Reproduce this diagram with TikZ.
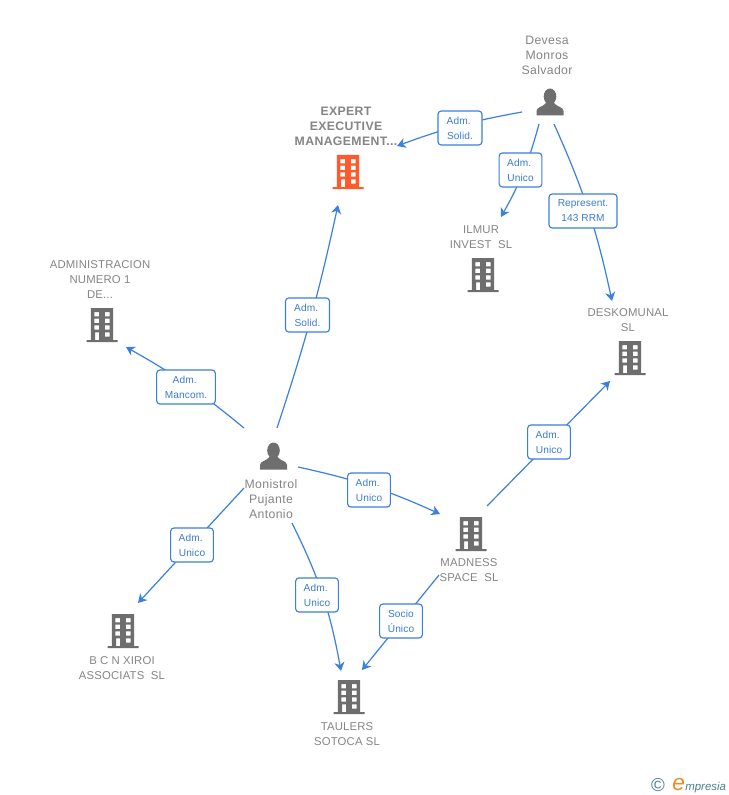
\documentclass[tikz,border=0pt]{standalone}
\usepackage{fontspec}
\setmainfont{Liberation Sans}
\usetikzlibrary{arrows.meta,calc}
\definecolor{conn}{HTML}{3B7FE0}
\definecolor{lbl}{HTML}{3A7BD5}
\definecolor{ent}{HTML}{858585}
\definecolor{ico}{HTML}{6E6E6E}
\definecolor{hot}{HTML}{FF5A2B}
\definecolor{brand}{HTML}{4F7F90}
\definecolor{brandE}{HTML}{F08A24}
\tikzset{
  x=.75pt,y=-.75pt,
  icon/.style={inner sep=0pt,minimum size=24pt},
  entname/.style={text=ent,font=\fontsize{9.2}{11.25}\selectfont\addfontfeature{LetterSpace=3},align=center,inner sep=0pt},
  capsname/.style={entname,font=\fontsize{8.5}{11.25}\selectfont\addfontfeature{LetterSpace=1.5}},
  boldname/.style={entname,font=\fontsize{9.2}{11.25}\selectfont\bfseries\addfontfeature{LetterSpace=3}},
  tag/.style={draw=conn,line width=.85pt,rounded corners=2.4pt,fill=white,text=lbl,
     font=\fontsize{7.6}{11.25}\selectfont\addfontfeature{LetterSpace=1},align=center,inner sep=0pt,minimum height=25.5pt},
  link/.style={draw=conn,line width=.9pt,-{Stealth[length=6.5pt,width=7.5pt,inset=2pt]}},
  pics/building/.style={code={
    \fill[#1,even odd rule]
      (-15.5,15) rectangle (15.5,17)
      (-11.2,-17) rectangle (11.2,15)
      (-7.7,-13) rectangle (-2.8,-8.7) (2.8,-13) rectangle (7.7,-8.7)
      (-7.7,-6.3) rectangle (-2.8,-2) (2.8,-6.3) rectangle (7.7,-2)
      (-7.7,.3) rectangle (-2.8,4.7) (2.8,.3) rectangle (7.7,4.7)
      (-7,7.3) rectangle (-2.8,15) (2.8,7.3) rectangle (7.7,11.5);
  }},
  pics/person/.style={code={
    \fill[ico] (0,-5.5) ellipse (6.3 and 8);
    \fill[ico] (-13.5,13.5) -- (-13.5,9) .. controls (-13.5,5) and (-7,5) .. (-4,1)
       -- (4,1) .. controls (7,5) and (13.5,5) .. (13.5,9) -- (13.5,13.5) -- cycle;
  }}
}
\newcommand{\bldg}[3]{\node[icon] (#1) at (#2) {}; \pic at (#1) {building=#3};}
\newcommand{\pers}[2]{\node[icon] (#1) at (#2) {}; \pic at (#1) {person};}
\newcommand{\admw}{Adm.\hspace*{2pt}}
\begin{document}
\begin{tikzpicture}
\useasboundingbox (0,0) rectangle (728,795);
\fill[white] (0,0) rectangle (728,795);
% entities
\bldg{expert}{348,172}{hot}
\bldg{ilmur}{483,275}{ico}
\bldg{admin}{102,325}{ico}
\bldg{desko}{630,358}{ico}
\bldg{madness}{471,534}{ico}
\bldg{bcn}{123,631}{ico}
\bldg{taulers}{349,697}{ico}
\pers{devesa}{550,102}
\pers{monistrol}{273.5,456}
% connectors
\draw[link] ($(devesa)+(-28,10)$) to[bend right=5] ($(expert)+(49,-26)$);
\draw[link] ($(devesa)+(-11,22)$) to[bend left=7] ($(ilmur)+(18,-58)$);
\draw[link] ($(devesa)+(4,22)$) to[bend left=6] ($(desko)+(-18,-57)$);
\draw[link] ($(monistrol)+(3.5,-28)$) to[bend right=3] ($(expert)+(-10,33)$);
\draw[link] ($(monistrol)+(-29.5,-28)$) to[bend right=5] ($(admin)+(24,22)$);
\draw[link] ($(monistrol)+(24.5,11)$) to[bend left=6] ($(madness)+(-31,-20)$);
\draw[link] ($(monistrol)+(-29.5,32)$) to ($(bcn)+(15,-28)$);
\draw[link] ($(monistrol)+(18.5,67)$) to[bend left=8] ($(taulers)+(-8,-26)$);
\draw[link] ($(madness)+(16,-28)$) to ($(desko)+(-20,23)$);
\draw[link] ($(madness)+(-32,41)$) to ($(taulers)+(13,-27)$);
% connector labels
\node[tag,minimum width=33pt] (t1) at (460,128) {\admw\\Solid.};
\node[tag,minimum width=32pt] (t2) at (520.5,170) {\admw\\Unico};
\node[tag,minimum width=51pt] (t3) at (583,211) {Represent.\\143 RRM};
\node[tag,minimum width=33pt] (t4) at (307.5,315) {\admw\\Solid.};
\node[tag,minimum width=44pt] (t5) at (186,387) {\admw\\Mancom.};
\node[tag,minimum width=32pt] (t6) at (369,490) {\admw\\Unico};
\node[tag,minimum width=32pt] (t7) at (192,545) {\admw\\Unico};
\node[tag,minimum width=32pt] (t8) at (317,595) {\admw\\Unico};
\node[tag,minimum width=32pt] (t9) at (549,442) {\admw\\Unico};
\node[tag,minimum width=32pt] (t10) at (401,621) {Socio\\Único};
% names
\node[entname] (n1) at (547,55) {Devesa\\Monros\\Salvador};
\node[boldname] (n2) at (346,126) {EXPERT\\EXECUTIVE\\MANAGEMENT...};
\node[capsname] (n3) at (481,237) {ILMUR\\INVEST\ \ SL};
\node[capsname] (n4) at (100,279.5) {ADMINISTRACION\\NUMERO 1\\DE...};
\node[capsname] (n5) at (628,320) {DESKOMUNAL\\SL};
\node[entname] (n6) at (271,499) {Monistrol\\Pujante\\Antonio};
\node[capsname] (n7) at (469,570) {MADNESS\\SPACE\ \ SL};
\node[capsname] (n8) at (122,668) {B C N XIROI\\ASSOCIATS\ \ SL};
\node[capsname] (n9) at (347,734) {TAULERS\\SOTOCA SL};
% brand
\node[text=brand,font=\fontsize{14}{14}\selectfont,inner sep=0pt] (c) at (658,785) {©};
\node[anchor=base west,text=brandE,font=\fontsize{17}{17}\selectfont\itshape,inner sep=0pt] (e) at (672,790) {e};
\node[anchor=base west,text=brand,font=\fontsize{8.6}{10}\selectfont\itshape,inner sep=0pt] (b) at (685,790) {mpresia};
\end{tikzpicture}
\end{document}
